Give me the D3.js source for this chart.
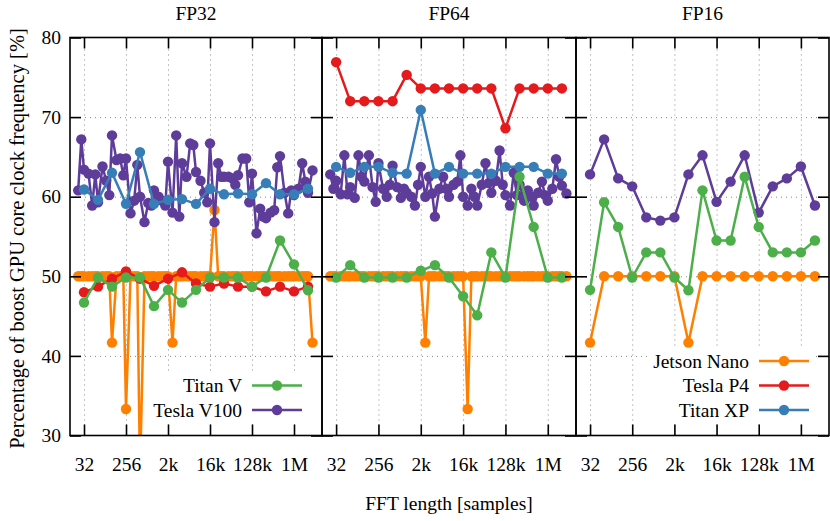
<!DOCTYPE html>
<html>
<head>
<meta charset="utf-8">
<script src="https://cdn.jsdelivr.net/npm/d3@7"></script>
<style>
  body { margin: 0; background: #fff; }
  svg { font-family: "Liberation Serif", "DejaVu Serif", serif; }
</style>
</head>
<body>
<svg id="chart" width="830" height="521"></svg>
<script>
// FFT lengths: dense sweep (4 per octave) and power-of-two sweep
const denseLengths = [24, 28,
  32, 40, 48, 56, 64, 80, 96, 112, 128, 160, 192, 224, 256, 320, 384, 448,
  512, 640, 768, 896, 1024, 1280, 1536, 1792, 2048, 2560, 3072, 3584,
  4096, 5120, 6144, 7168, 8192, 10240, 12288, 14336, 16384, 20480, 24576, 28672,
  32768, 40960, 49152, 57344, 65536, 81920, 98304, 114688,
  131072, 163840, 196608, 229376, 262144, 327680, 393216, 458752,
  524288, 655360, 786432, 917504, 1048576, 1310720, 1572864, 1835008,
  2097152, 2621440];
const pow2Lengths = [32, 64, 128, 256, 512, 1024, 2048, 4096, 8192, 16384,
  32768, 65536, 131072, 262144, 524288, 1048576, 2097152];

const xTickValues = [32, 256, 2048, 16384, 131072, 1048576];
const xTickLabels = ["32", "256", "2k", "16k", "128k", "1M"];
const yTickValues = [30, 40, 50, 60, 70, 80];
const panelTitles = ["FP32", "FP64", "FP16"];

// FP32
const fp32JetsonNano = [50, 50,
  50, 50, 50, 50, 50, 50, 50, 50, 41.67, 50, 50, 50, 33.33, 50, 50, 50,
  25, 50, 50, 50, 50, 50, 50, 50, 50, 41.67, 50, 50,
  50, 50, 50, 50, 50, 50, 50, 50, 50, 58.33, 50, 50,
  50, 50, 50, 50, 50, 50, 50, 50,
  50, 50, 50, 50, 50, 50, 50, 50,
  50, 50, 50, 50, 50, 50, 50, 50,
  50, 41.67];
const fp32TeslaP4 = [48.0, 48.7, 49.7, 50.6, 49.7, 48.8, 49.7, 50.5, 49.1,
  48.7, 49.1, 48.7, 48.7, 48.1, 48.7, 48.1, 48.7];
const fp32TitanXP = [60.9, 59.6, 63.0, 59.1, 65.6, 59.1, 59.6, 59.7, 59.1,
  61.0, 60.3, 60.4, 60.3, 61.7, 60.3, 60.3, 61.0];
const fp32TitanV = [46.7, 49.85, 48.7, 49.85, 49.85, 46.25, 48.3, 46.7, 48.3,
  49.85, 49.85, 49.85, 48.7, 49.85, 54.5, 51.5, 48.25];
const fp32TeslaV100 = [60.8, 67.2,
  63.4, 62.9, 58.9, 62.8, 59.3, 63.8, 62.0, 60.2, 67.7, 64.6, 64.8, 62.7, 64.8, 57.9, 59.5, 64.0,
  60.0, 56.8, 59.2, 58.9, 60.8, 60.0, 59.5, 58.9, 64.4, 58.0, 67.7, 57.5,
  64.2, 62.5, 66.7, 66.5, 63.1, 62.0, 60.5, 59.3, 66.7, 56.8, 64.2, 62.5,
  62.5, 62.5, 62.3, 61.5, 62.7, 64.8, 64.8, 59.3,
  62.9, 55.4, 58.5, 57.5, 57.3, 58.0, 58.3, 63.7,
  65.1, 60.5, 57.9, 60.8, 60.2, 61.0, 64.2, 61.9,
  60.5, 63.3];

// FP64
const fp64JetsonNano = [50, 50,
  50, 50, 50, 50, 50, 50, 50, 50, 50, 50, 50, 50, 50, 50, 50, 50,
  50, 50, 50, 50, 50, 50, 50, 50, 50, 41.67, 50, 50,
  50, 50, 50, 50, 50, 50, 50, 50, 50, 33.33, 50, 50,
  50, 50, 50, 50, 50, 50, 50, 50,
  50, 50, 50, 50, 50, 50, 50, 50,
  50, 50, 50, 50, 50, 50, 50, 50,
  50, 50];
const fp64TeslaP4 = [76.9, 72.0, 72.0, 72.0, 72.0, 75.3, 73.6, 73.6, 73.6,
  73.6, 73.6, 73.6, 68.6, 73.6, 73.6, 73.6, 73.6];
const fp64TitanXP = [63.75, 63.0, 63.75, 63.75, 63.0, 62.9, 70.9, 62.9, 63.75,
  62.9, 62.9, 62.9, 63.75, 63.75, 63.75, 62.9, 62.9];
const fp64TitanV = [49.85, 51.4, 49.85, 49.85, 49.85, 49.85, 50.7, 51.4, 49.85,
  47.5, 45.1, 53.0, 49.85, 62.5, 56.2, 49.85, 49.85];
const fp64TeslaV100 = [62.8, 61.0,
  62.0, 60.3, 65.2, 60.3, 61.2, 59.85, 65.2, 62.5, 61.9, 65.2, 61.2, 59.35, 64.2, 61.0, 60.0, 61.5,
  63.9, 61.2, 59.85, 61.0, 60.5, 60.0, 58.9, 61.5, 63.75, 60.0, 62.5, 60.4,
  57.5, 61.0, 62.5, 61.0, 60.0, 61.5, 61.9, 65.2, 60.0, 58.9, 61.0, 60.0,
  58.9, 61.5, 64.2, 61.7, 60.5, 62.0, 65.8, 61.5,
  60.2, 58.9, 63.0, 60.2, 61.5, 59.5, 60.8, 60.0,
  58.9, 60.5, 61.9, 60.2, 59.5, 61.0, 64.7, 62.5,
  61.4, 60.4];

// FP16
const fp16JetsonNano = [41.67, 50, 50, 50, 50, 50, 50, 41.67, 50, 50, 50, 50,
  50, 50, 50, 50, 50];
const fp16TitanV = [48.3, 59.3, 56.2, 49.85, 53.0, 53.0, 49.85, 48.25, 60.8,
  54.5, 54.5, 62.5, 56.2, 53.0, 53.0, 53.0, 54.5];
const fp16TeslaV100 = [62.8, 67.2, 62.3, 61.3, 57.4, 57.0, 57.4, 62.8, 65.2,
  59.35, 61.9, 65.2, 58.0, 61.3, 62.3, 63.8, 58.9];

const colors = {
  "Jetson Nano": "#ff7f00",
  "Tesla P4": "#e41a1c",
  "Titan XP": "#377eb8",
  "Titan V": "#4daf4a",
  "Tesla V100": "#5e3c99",
};

const zip = (xs, ys) => xs.map((n, i) => ({ n, v: ys[i] }));

// drawing order: later ones sit on top
const panels = [
  { title: panelTitles[0], x0: 70, x1: 322, series: [
    { name: "Jetson Nano", pts: zip(denseLengths, fp32JetsonNano) },
    { name: "Tesla V100", pts: zip(denseLengths, fp32TeslaV100) },
    { name: "Tesla P4", pts: zip(pow2Lengths, fp32TeslaP4) },
    { name: "Titan V", pts: zip(pow2Lengths, fp32TitanV) },
    { name: "Titan XP", pts: zip(pow2Lengths, fp32TitanXP) },
  ], legend: ["Titan V", "Tesla V100"] },
  { title: panelTitles[1], x0: 322, x1: 576, series: [
    { name: "Jetson Nano", pts: zip(denseLengths, fp64JetsonNano) },
    { name: "Tesla V100", pts: zip(denseLengths, fp64TeslaV100) },
    { name: "Tesla P4", pts: zip(pow2Lengths, fp64TeslaP4) },
    { name: "Titan V", pts: zip(pow2Lengths, fp64TitanV) },
    { name: "Titan XP", pts: zip(pow2Lengths, fp64TitanXP) },
  ], legend: [] },
  { title: panelTitles[2], x0: 576, x1: 829, series: [
    { name: "Jetson Nano", pts: zip(pow2Lengths, fp16JetsonNano) },
    { name: "Tesla V100", pts: zip(pow2Lengths, fp16TeslaV100) },
    { name: "Titan V", pts: zip(pow2Lengths, fp16TitanV) },
  ], legend: ["Jetson Nano", "Tesla P4", "Titan XP"] },
];

const TOP = 37.5, BOTTOM = 435.5;
const TICK = 11;
const FONT = 19.5;

const svg = d3.select("#chart");
const y = d3.scaleLinear().domain([30, 80]).range([BOTTOM, TOP]);

panels.forEach((p, pi) => {
  const x = d3.scaleLog().base(2).domain([16, 4194304]).range([p.x0, p.x1]);
  const g = svg.append("g");

  const clipId = "clip" + pi;
  svg.append("clipPath").attr("id", clipId)
    .append("rect")
    .attr("x", p.x0).attr("y", TOP)
    .attr("width", p.x1 - p.x0).attr("height", BOTTOM - TOP);

  // dotted grid
  const grid = g.append("g").attr("class", "grid");
  grid.append("g")
    .attr("transform", `translate(0,${BOTTOM})`)
    .call(d3.axisBottom(x).tickValues(xTickValues).tickSize(-(BOTTOM - TOP)).tickFormat(""));
  grid.append("g")
    .attr("transform", `translate(${p.x0},0)`)
    .call(d3.axisLeft(y).tickValues([40, 50, 60, 70]).tickSize(-(p.x1 - p.x0)).tickFormat(""));
  grid.selectAll(".domain").remove();
  grid.selectAll("line")
    .attr("stroke", "#888")
    .attr("stroke-width", 1)
    .attr("stroke-dasharray", "1,4");

  // series
  const line = d3.line().x(d => x(d.n)).y(d => y(d.v));
  const plot = g.append("g").attr("clip-path", `url(#${clipId})`);
  p.series.forEach(s => {
    const c = colors[s.name];
    plot.append("path")
      .datum(s.pts)
      .attr("fill", "none")
      .attr("stroke", c)
      .attr("stroke-width", 2.5)
      .attr("stroke-linejoin", "round")
      .attr("d", line);
    plot.selectAll(null)
      .data(s.pts)
      .enter().append("circle")
      .attr("cx", d => x(d.n))
      .attr("cy", d => y(d.v))
      .attr("r", 5.2)
      .attr("fill", c);
  });

  // axes with inward ticks on every side
  const ax = g.append("g").attr("class", "axes");
  ax.append("g")
    .attr("transform", `translate(0,${BOTTOM})`)
    .call(d3.axisBottom(x).tickValues(xTickValues)
      .tickFormat((d, i) => xTickLabels[i])
      .tickSizeInner(-TICK).tickSizeOuter(0).tickPadding(22));
  ax.append("g")
    .attr("transform", `translate(0,${TOP})`)
    .call(d3.axisTop(x).tickValues(xTickValues).tickFormat("")
      .tickSizeInner(-TICK).tickSizeOuter(0));
  ax.append("g")
    .attr("transform", `translate(${p.x0},0)`)
    .call(d3.axisLeft(y).tickValues(yTickValues)
      .tickFormat(pi === 0 ? d3.format("d") : "")
      .tickSizeInner(-TICK).tickSizeOuter(0).tickPadding(9));
  ax.append("g")
    .attr("transform", `translate(${p.x1},0)`)
    .call(d3.axisRight(y).tickValues(yTickValues).tickFormat("")
      .tickSizeInner(-TICK).tickSizeOuter(0));
  ax.selectAll(".domain").remove();
  ax.selectAll("line").attr("stroke", "#000").attr("stroke-width", 1.6);
  ax.selectAll("text")
    .attr("font-family", "Liberation Serif, serif")
    .attr("font-size", FONT)
    .attr("fill", "#000");

  // border
  g.append("rect")
    .attr("x", p.x0).attr("y", TOP)
    .attr("width", p.x1 - p.x0).attr("height", BOTTOM - TOP)
    .attr("fill", "none").attr("stroke", "#000").attr("stroke-width", 1.6);

  // panel title
  g.append("text")
    .attr("x", (p.x0 + p.x1) / 2).attr("y", 20)
    .attr("text-anchor", "middle")
    .attr("font-size", FONT)
    .text(p.title);

  // opaque key, bottom right
  if (p.legend.length) {
    const rowH = 24.5;
    const lastY = 410;
    const firstY = lastY - rowH * (p.legend.length - 1);
    const lineX0 = p.x1 - 70, lineX1 = p.x1 - 20;
    const key = g.append("g");
    key.append("rect")
      .attr("x", lineX0 - 108).attr("y", firstY - 13)
      .attr("width", lineX1 - lineX0 + 114).attr("height", rowH * p.legend.length + 2)
      .attr("fill", "#fff");
    p.legend.forEach((name, i) => {
      const ky = firstY + i * rowH;
      key.append("text")
        .attr("x", lineX0 - 10).attr("y", ky)
        .attr("dy", "0.35em")
        .attr("text-anchor", "end")
        .attr("font-size", FONT)
        .text(name);
      key.append("line")
        .attr("x1", lineX0).attr("x2", lineX1)
        .attr("y1", ky).attr("y2", ky)
        .attr("stroke", colors[name]).attr("stroke-width", 2.5);
      key.append("circle")
        .attr("cx", (lineX0 + lineX1) / 2).attr("cy", ky)
        .attr("r", 5.2).attr("fill", colors[name]);
    });
  }
});

// axis titles
svg.append("text")
  .attr("x", 449).attr("y", 510)
  .attr("text-anchor", "middle")
  .attr("font-size", FONT)
  .text("FFT length [samples]");

svg.append("text")
  .attr("transform", `translate(24,${(TOP + BOTTOM) / 2 + 2}) rotate(-90)`)
  .attr("text-anchor", "middle")
  .attr("font-size", 20.5)
  .text("Percentage of boost GPU core clock frequency [%]");
</script>
</body>
</html>
